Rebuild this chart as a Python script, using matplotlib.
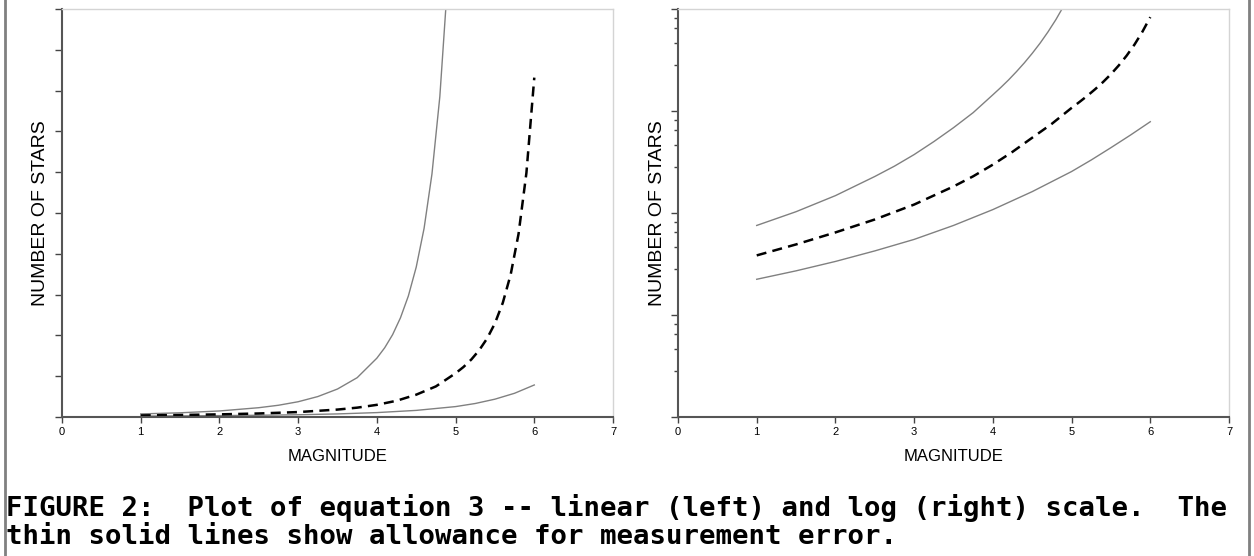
import matplotlib
matplotlib.use("Agg")
import matplotlib.pyplot as plt
from matplotlib.ticker import MultipleLocator, LogLocator, NullFormatter
from matplotlib.lines import Line2D

plt.rcParams['font.family'] = ['Liberation Sans', 'DejaVu Sans']

# equation 3 (dashed)
mag_model = [1.0, 1.5, 2.0, 2.5, 3.0, 3.5, 3.75, 4.0, 4.25, 4.5, 4.75,
             5.0, 5.1, 5.2, 5.3, 5.4, 5.5, 5.6, 5.7, 5.8, 5.9, 6.0]
n_model = [38.4, 49.2, 64.5, 86.4, 121, 182, 229, 298, 398, 547, 750,
           1072, 1225, 1409, 1637, 1923, 2296, 2799, 3491, 4487, 5984, 8318]

# upper error allowance (thin solid), runs off the top near m = 4.85
mag_hi = [1.0, 1.5, 2.0, 2.5, 2.75, 3.0, 3.25, 3.5, 3.75, 4.0, 4.1, 4.2,
          4.3, 4.4, 4.5, 4.6, 4.7, 4.8, 4.9]
n_hi = [75.5, 103, 148, 228, 288, 374, 501, 686, 964, 1442, 1698, 2018,
        2432, 2965, 3673, 4624, 5957, 7852, 10700]

# lower error allowance (thin solid)
mag_lo = [1.0, 1.5, 2.0, 2.5, 3.0, 3.5, 4.0, 4.5, 5.0, 5.25, 5.5, 5.75, 6.0]
n_lo = [22.4, 27.1, 33.5, 42.5, 55.1, 75.5, 108, 162, 255, 331, 437, 582, 785]

mag_ticks = [0, 1, 2, 3, 4, 5, 6, 7]

W, H = 1254, 556
fig = plt.figure(figsize=(W / 100, H / 100), dpi=100)

ax1 = fig.add_axes([62 / W, 1 - 417 / H, 551 / W, 408 / H])
ax2 = fig.add_axes([678 / W, 1 - 417 / H, 551 / W, 408 / H])

for ax in (ax1, ax2):
    ax.plot(mag_hi, n_hi, color='#808080', lw=1.0)
    ax.plot(mag_lo, n_lo, color='#808080', lw=1.0)
    ax.plot(mag_model, n_model, color='black', lw=1.8, linestyle=(0, (4, 2.5)))
    ax.set_xlim(0, 7)
    ax.set_xticks(mag_ticks)
    ax.tick_params(axis='x', direction='out', length=4, width=1, labelsize=8,
                   pad=3, color='#444444')
    ax.tick_params(axis='y', which='both', direction='out', width=1,
                   labelleft=False, color='#444444')
    ax.tick_params(axis='y', which='major', length=5)
    ax.tick_params(axis='y', which='minor', length=3)
    for s in ('left', 'bottom'):
        ax.spines[s].set_color('#555555')
        ax.spines[s].set_linewidth(1.5)
    for s in ('top', 'right'):
        ax.spines[s].set_color('#d4d4d4')
        ax.spines[s].set_linewidth(1.0)
    ax.set_xlabel('MAGNITUDE', fontsize=12, labelpad=9)
    ax.set_ylabel('NUMBER OF STARS', fontsize=14, labelpad=4)

# linear scale
ax1.set_ylim(0, 10000)
ax1.yaxis.set_major_locator(MultipleLocator(1000))

# log scale
ax2.set_yscale('log')
ax2.set_ylim(1, 10000)
ax2.yaxis.set_major_locator(LogLocator(base=10, numticks=10))
ax2.yaxis.set_minor_locator(LogLocator(base=10, subs=[2.8, 4.6, 6.5, 8.1], numticks=10))
ax2.yaxis.set_major_formatter(NullFormatter())
ax2.yaxis.set_minor_formatter(NullFormatter())

# outer frame lines
fig.add_artist(Line2D([5 / W, 5 / W], [0, 1], color='#808080', lw=2))
fig.add_artist(Line2D([1249 / W, 1249 / W], [0, 1], color='#808080', lw=2))

cap = dict(family='DejaVu Sans Mono', fontweight='bold', fontsize=19.7,
           ha='left', va='baseline')
fig.text(6 / W, 1 - 516 / H,
         'FIGURE 2:  Plot of equation 3 -- linear (left) and log (right) scale.  The', **cap)
fig.text(6 / W, 1 - 544 / H,
         'thin solid lines show allowance for measurement error.', **cap)

plt.savefig('out.png', dpi=100)
